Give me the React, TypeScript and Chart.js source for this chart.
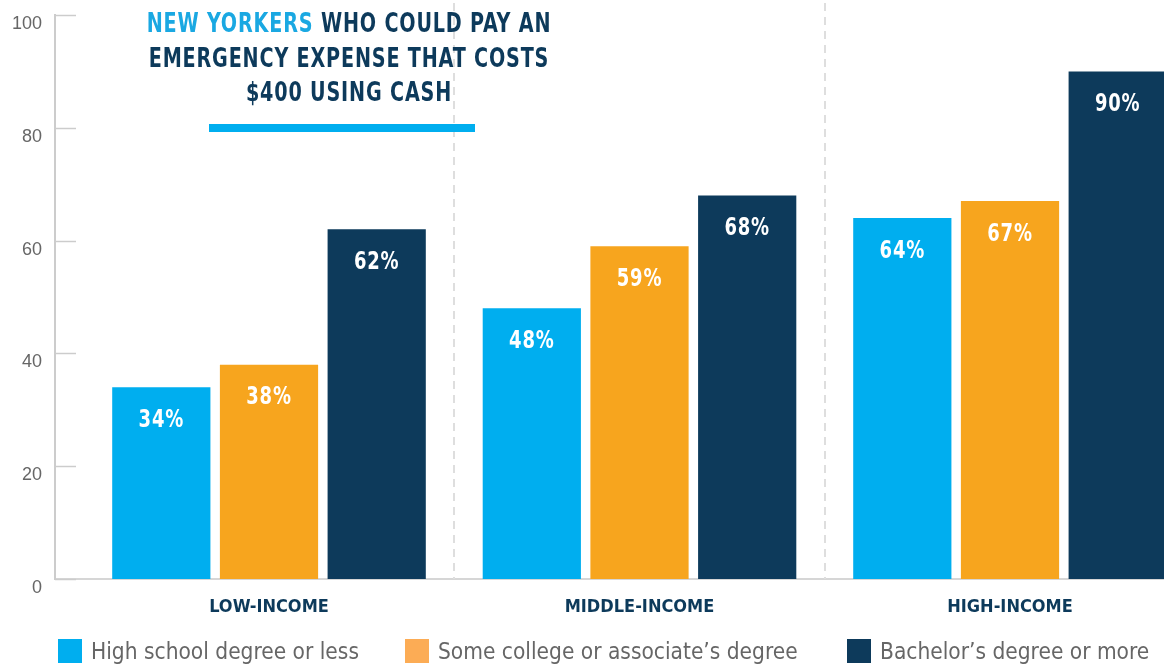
import React, { useEffect, useRef } from 'react';
import { Chart, registerables } from 'chart.js';

Chart.register(...registerables);

const categories = ['LOW-INCOME', 'MIDDLE-INCOME', 'HIGH-INCOME'];
const seriesNames = ['High school degree or less', 'Some college or associate’s degree', 'Bachelor’s degree or more'];
const highSchool = [34, 48, 64];
const someCollege = [38, 59, 67];
const bachelors = [62, 68, 90];
const yTicks = [0, 20, 40, 60, 80, 100];
const barColors = ['#00aeef', '#f7a51e', '#0d3a5b'];
const legendColors = ['#00aeef', '#fcac55', '#0d3a5b'];
const legendLefts = [58, 405, 847];

const COND = '"DejaVu Sans Condensed", "Liberation Sans Narrow", sans-serif';
const SANS = '"Liberation Sans", Arial, sans-serif';
const NAVY = '#0d3a5b';

const decorPlugin = {
  id: 'decor',
  beforeDatasetsDraw(chart: any) {
    const { ctx, chartArea, scales } = chart;
    const x = scales.x;
    const y = scales.y;
    ctx.save();
    ctx.strokeStyle = '#dedede';
    ctx.lineWidth = 2;
    ctx.setLineDash([8, 6]);
    for (let i = 0; i < categories.length - 1; i++) {
      const px = Math.round(x.getPixelForValue(i + 0.5));
      ctx.beginPath();
      ctx.moveTo(px, 3);
      ctx.lineTo(px, chartArea.bottom);
      ctx.stroke();
    }
    ctx.setLineDash([]);
    ctx.strokeStyle = '#cccccc';
    ctx.lineWidth = 1.5;
    yTicks.forEach((v) => {
      const py = Math.round(y.getPixelForValue(v)) + 0.5;
      ctx.beginPath();
      ctx.moveTo(chartArea.left, py);
      ctx.lineTo(chartArea.left + 21, py);
      ctx.stroke();
    });
    ctx.restore();
  },
  afterDatasetsDraw(chart: any) {
    const { ctx } = chart;
    chart.data.datasets.forEach((ds: any, di: number) => {
      const meta = chart.getDatasetMeta(di);
      meta.data.forEach((bar: any, i: number) => {
        const v = ds.data[i].y;
        ctx.save();
        ctx.fillStyle = '#ffffff';
        ctx.font = `bold 25px ${COND}`;
        ctx.textAlign = 'center';
        ctx.textBaseline = 'middle';
        try { (ctx as any).letterSpacing = '1px'; } catch (e) {}
        ctx.translate(bar.x, bar.y + 33);
        ctx.scale(0.8, 1);
        ctx.fillText(`${v}%`, 0, 0);
        ctx.restore();
      });
    });
  },
};

export default function App() {
  const canvasRef = useRef<HTMLCanvasElement | null>(null);

  useEffect(() => {
    if (!canvasRef.current) return;
    const series = [highSchool, someCollege, bachelors];
    const chart = new Chart(canvasRef.current, {
      type: 'bar',
      data: {
        datasets: series.map((vals, si) => ({
          label: seriesNames[si],
          data: vals.map((v, i) => ({ x: i, y: v })),
          backgroundColor: barColors[si],
          borderWidth: 0,
          categoryPercentage: 0.872,
          barPercentage: 0.912,
        })),
      },
      options: {
        animation: false,
        responsive: false,
        maintainAspectRatio: false,
        layout: { padding: { top: 15, bottom: 48, left: 0, right: 0 } },
        plugins: {
          legend: { display: false },
          tooltip: { enabled: false },
          title: { display: false },
        },
        scales: {
          x: {
            type: 'linear',
            offset: false,
            min: -0.5776,
            max: 2.5236,
            grid: { display: false, drawTicks: false, offset: false },
            border: { display: true, color: '#d6d6d6', width: 2 },
            ticks: {
              stepSize: 1,
              includeBounds: false,
              autoSkip: false,
              maxRotation: 0,
              padding: 18,
              color: NAVY,
              font: { family: COND, size: 18, weight: 'bold' },
              callback: (v: any) => categories[v] ?? '',
            },
            afterFit: (s: any) => { s.height = 40; s.paddingLeft = 0; s.paddingRight = 0; },
          },
          y: {
            min: 0,
            max: 100,
            grid: { display: false, drawTicks: false },
            border: { display: true, color: '#cccccc', width: 2 },
            ticks: {
              stepSize: 20,
              padding: 13,
              labelOffset: 9,
              color: '#666666',
              font: { family: SANS, size: 18 },
            },
            afterFit: (s: any) => { s.width = 55; s.paddingTop = 0; s.paddingBottom = 0; },
          },
        },
      },
      plugins: [decorPlugin],
    } as any);
    return () => chart.destroy();
  }, []);

  return (
    <div style={{ position: 'absolute', left: 0, top: 0, width: 1164, height: 667, overflow: 'hidden', background: '#fff' }}>
      <canvas ref={canvasRef} width={1204} height={667} style={{ position: 'absolute', left: 0, top: 0, width: 1204, height: 667 }} />
      <div
        style={{
          position: 'absolute',
          left: 49,
          top: 6,
          width: 600,
          textAlign: 'center',
          fontFamily: COND,
          fontWeight: 'bold',
          fontSize: 26,
          lineHeight: '34.5px',
          letterSpacing: '1px',
          whiteSpace: 'nowrap',
          color: NAVY,
          transform: 'scaleX(0.82)',
          transformOrigin: '300px 0',
        }}
      >
        <div><span style={{ color: '#1aa8e2' }}>NEW YORKERS</span> WHO COULD PAY AN</div>
        <div>EMERGENCY EXPENSE THAT COSTS</div>
        <div>$400 USING CASH</div>
      </div>
      <div style={{ position: 'absolute', left: 209, top: 124, width: 266, height: 8, background: '#00aeef' }} />
      {seriesNames.map((name, i) => (
        <div
          key={name}
          style={{
            position: 'absolute',
            left: legendLefts[i],
            top: 639,
            height: 24,
            display: 'flex',
            alignItems: 'center',
            whiteSpace: 'nowrap',
          }}
        >
          <div style={{ width: 24, height: 24, background: legendColors[i], marginRight: 9 }} />
          <span style={{ fontFamily: COND, fontSize: 22.5, color: '#666666', lineHeight: '24px' }}>{name}</span>
        </div>
      ))}
    </div>
  );
}
